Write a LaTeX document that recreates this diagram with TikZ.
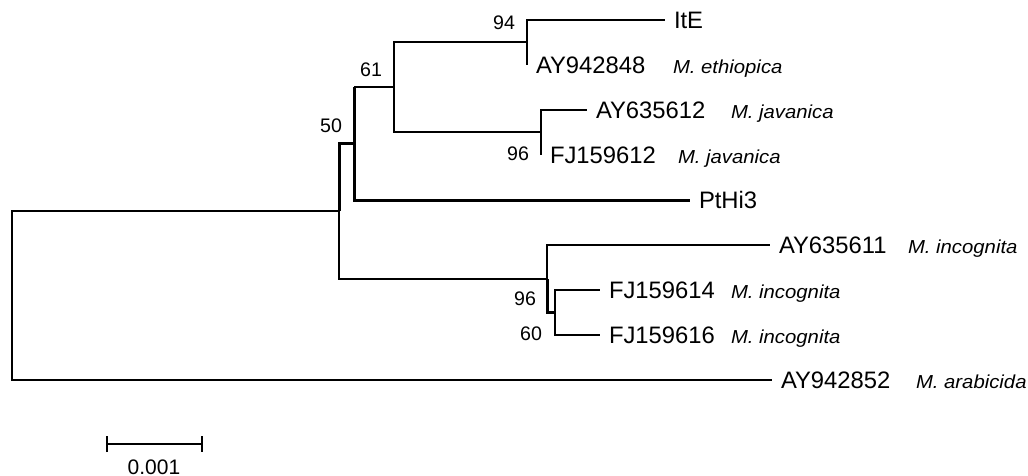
\documentclass[tikz,border=0pt]{standalone}
\usepackage{fontspec}
\setmainfont{Liberation Sans}
\usetikzlibrary{arrows.meta}
\newcommand{\spname}[1]{\scalebox{1.08}[1]{#1}}

\begin{document}
\begin{tikzpicture}[x=0.5pt,y=-0.5pt,line width=1pt,
  taxon/.style={anchor=west,inner xsep=4pt,inner ysep=0pt,text height=8.5pt,text depth=0pt,font=\fontsize{11.9}{14}\selectfont},
  species/.style={anchor=west,inner sep=0pt,text height=8.5pt,text depth=0pt,font=\fontsize{9.4}{11}\selectfont\itshape},
  boot/.style={inner sep=0pt,font=\fontsize{9.8}{11}\selectfont},
  bootup/.style={boot,anchor=south east},
  bootdown/.style={boot,anchor=north east},
  heavy/.style={line width=1.5pt}]
  \useasboundingbox (0,0) rectangle (1028,476);
  % internal nodes
  \coordinate (root) at (12,295.5);
  \coordinate (nIn) at (339,211);
  \coordinate (n50) at (354,144);
  \coordinate (n61) at (394,87);
  \coordinate (n94) at (527,42);
  \coordinate (n96a) at (541,132);
  \coordinate (n96b) at (547,279);
  \coordinate (n60) at (555,312);
  % taxa
  \node[taxon] (ite) at (665,20) {ItE};
  \node[taxon] (ay942848) at (527,65) {AY942848};
  \node[taxon] (ay635612) at (587,110) {AY635612};
  \node[taxon] (fj159612) at (541,155) {FJ159612};
  \node[taxon] (pthi3) at (690,200) {PtHi3};
  \node[taxon] (ay635611) at (770,245) {AY635611};
  \node[taxon] (fj159614) at (600,290) {FJ159614};
  \node[taxon] (fj159616) at (600,335) {FJ159616};
  \node[taxon] (ay942852) at (772,380) {AY942852};
  \node[species] (sp1) at (672,65) {\spname{M. ethiopica}};
  \node[species] (sp2) at (730,110) {\spname{M. javanica}};
  \node[species] (sp3) at (677,155) {\spname{M. javanica}};
  \node[species] (sp4) at (907,245) {\spname{M. incognita}};
  \node[species] (sp5) at (730,290) {\spname{M. incognita}};
  \node[species] (sp6) at (730,335) {\spname{M. incognita}};
  \node[species] (sp7) at (915,380) {\spname{M. arabicida}};
  % branches
  \draw (root) |- (nIn);
  \draw (root) |- (ay942852.west);
  \draw[heavy] (nIn) |- (n50);
  \draw (nIn) |- (n96b);
  \draw[heavy] (n50) -- (n50 |- n61);
  \draw (n50 |- n61) -- (n61);
  \draw[heavy] (n50) |- (pthi3.west);
  \draw (n61) |- (n94);
  \draw (n61) |- (n96a);
  \draw (n94) |- (ite.west);
  \draw (n94) |- (ay942848.west);
  \draw (n96a) |- (ay635612.west);
  \draw (n96a) |- (fj159612.west);
  \draw (n96b) |- (ay635611.west);
  \draw[heavy] (n96b) |- (n60);
  \draw (n60) |- (fj159614.west);
  \draw (n60) |- (fj159616.west);
  % bootstrap values
  \node[bootup] (b94) at ([shift={(-11,-11)}]n94) {94};
  \node[bootup] (b61) at ([shift={(-11,-9)}]n61) {61};
  \node[bootup] (b50) at ([shift={(-11,-10)}]n50) {50};
  \node[bootdown] (b96a) at ([shift={(-11,14)}]n96a) {96};
  \node[bootdown] (b96b) at ([shift={(-10,12)}]n96b) {96};
  \node[bootdown] (b60) at ([shift={(-12,14)}]n60) {60};
  % scale bar
  \coordinate (sbl) at (106,444);
  \coordinate (sbr) at (203,444);
  \draw[{Bar[width=8pt]}-{Bar[width=8pt]}] (sbl) -- (sbr);
  \node[boot,font=\fontsize{10.5}{12}\selectfont] (sblabel) at (154,467) {0.001};
\end{tikzpicture}
\end{document}
